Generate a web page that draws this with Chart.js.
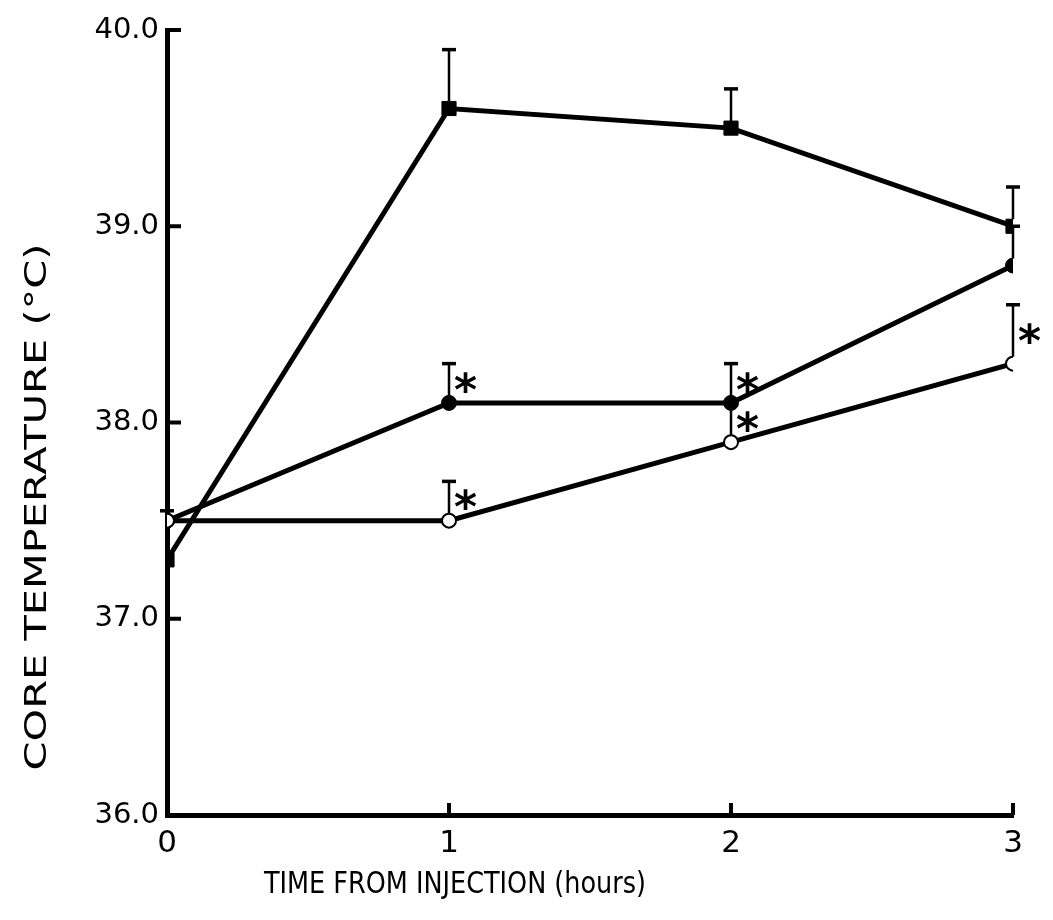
<!DOCTYPE html>
<html>
<head>
<meta charset="utf-8">
<script src="https://cdn.jsdelivr.net/npm/chart.js@4"></script>
<style>
  html, body { margin: 0; padding: 0; background: #ffffff; }
  #wrap { width: 1053px; height: 920px; position: relative; }
</style>
</head>
<body>
<div id="wrap"><canvas id="c" width="1053" height="920"></canvas></div>
<script>
// ---- data ----
const hours = [0, 1, 2, 3];
const xTickValues = [0, 1, 2, 3];
const yTickValues = [36, 37, 38, 39, 40];

const squareTemps = [37.3, 39.6, 39.5, 39.0];
const squareErr   = [0, 0.3, 0.2, 0.2];
const squareStars = [false, false, false, false];

const filledTemps = [37.5, 38.1, 38.1, 38.8];
const filledErr   = [0, 0.2, 0.2, 0.2];
const filledStars = [false, true, true, false];

const openTemps = [37.5, 37.5, 37.9, 38.3];
const openErr   = [0.05, 0.2, 0.2, 0.3];
const openStars = [false, true, true, true];

const xTitle = 'TIME FROM INJECTION (hours)';
const yTitle = 'CORE TEMPERATURE (°C)';

// ---- chart ----
const toPts = (vals) => hours.map((h, i) => ({ x: h, y: vals[i] }));

const seriesInfo = [
  { vals: openTemps,   err: openErr,   stars: openStars,   r: 7 },
  { vals: filledTemps, err: filledErr, stars: filledStars, r: 7 },
  { vals: squareTemps, err: squareErr, stars: squareStars, r: 7 }
];

function fitText(ctx, text, cx, cy, targetW) {
  const w = ctx.measureText(text).width;
  ctx.save();
  ctx.translate(cx, cy);
  ctx.scale(targetW / w, 1);
  ctx.fillText(text, 0, 0);
  ctx.restore();
}

const overlay = {
  id: 'overlay',
  beforeDatasetsDraw(chart) {
    const ctx = chart.ctx, xs = chart.scales.x, ys = chart.scales.y;
    ctx.save();
    ctx.strokeStyle = '#000';
    seriesInfo.forEach(s => {
      hours.forEach((h, i) => {
        if (!s.err[i]) return;
        const px = xs.getPixelForValue(h);
        const py = ys.getPixelForValue(s.vals[i]);
        const pt = ys.getPixelForValue(s.vals[i] + s.err[i]);
        ctx.lineWidth = 2.5;
        ctx.beginPath();
        ctx.moveTo(px, py - s.r);
        ctx.lineTo(px, pt);
        ctx.stroke();
        ctx.lineWidth = 3.5;
        ctx.beginPath();
        ctx.moveTo(px - 7, pt);
        ctx.lineTo(px + 7, pt);
        ctx.stroke();
      });
    });
    ctx.restore();
  },
  afterDraw(chart) {
    const ctx = chart.ctx, xs = chart.scales.x, ys = chart.scales.y;
    const a = chart.chartArea;
    ctx.save();
    ctx.strokeStyle = '#000';
    ctx.lineWidth = 4;
    // inward tick marks
    yTickValues.forEach(v => {
      if (v === 36) return;
      const y = ys.getPixelForValue(v);
      ctx.beginPath(); ctx.moveTo(a.left, y); ctx.lineTo(a.left + 14, y); ctx.stroke();
    });
    xTickValues.forEach(v => {
      if (v === 0) return;
      const x = xs.getPixelForValue(v);
      ctx.beginPath(); ctx.moveTo(x, a.bottom); ctx.lineTo(x, a.bottom - 12); ctx.stroke();
    });
    // significance asterisks
    ctx.fillStyle = '#000';
    ctx.font = 'bold 44px "DejaVu Sans"';
    ctx.textAlign = 'left';
    ctx.textBaseline = 'middle';
    seriesInfo.forEach(s => {
      hours.forEach((h, i) => {
        if (!s.stars[i]) return;
        const px = xs.getPixelForValue(h);
        const ym = ys.getPixelForValue(s.vals[i] + s.err[i] / 2);
        ctx.fillText('*', px + 5, ym + 10);
      });
    });
    // axis titles
    ctx.textAlign = 'center';
    ctx.textBaseline = 'middle';
    ctx.font = '30px "DejaVu Sans"';
    ctx.save();
    ctx.translate(38, 507);
    ctx.rotate(-Math.PI / 2);
    fitText(ctx, yTitle, 0, 0, 527);
    ctx.restore();
    ctx.font = '31px "Liberation Sans Narrow", "DejaVu Sans Condensed", "Liberation Sans"';
    fitText(ctx, xTitle, 455, 885, 382);
    ctx.restore();
  }
};

new Chart(document.getElementById('c'), {
  type: 'line',
  data: {
    datasets: [
      {
        label: 'open',
        data: toPts(openTemps),
        borderColor: '#000', borderWidth: 5,
        pointStyle: 'circle', pointRadius: 7,
        pointBackgroundColor: '#fff', pointBorderColor: '#000', pointBorderWidth: 2,
        tension: 0
      },
      {
        label: 'filled',
        data: toPts(filledTemps),
        borderColor: '#000', borderWidth: 5,
        pointStyle: 'circle', pointRadius: 7.5,
        pointBackgroundColor: '#000', pointBorderColor: '#000', pointBorderWidth: 1,
        tension: 0
      },
      {
        label: 'square',
        data: toPts(squareTemps),
        borderColor: '#000', borderWidth: 5,
        pointStyle: 'rect', pointRadius: 10,
        pointBackgroundColor: '#000', pointBorderColor: '#000', pointBorderWidth: 1,
        tension: 0
      }
    ]
  },
  options: {
    responsive: false,
    animation: false,
    events: [],
    layout: { padding: { top: 30, right: 40, left: 0, bottom: 0 } },
    plugins: { legend: { display: false }, tooltip: { enabled: false } },
    scales: {
      x: {
        type: 'linear', min: 0, max: 3,
        afterBuildTicks: (s) => { s.ticks = xTickValues.map(v => ({ value: v })); },
        afterFit: (s) => { s.height = 920 - 815; },
        grid: { display: false, drawTicks: false, tickLength: 0 },
        border: { display: true, color: '#000', width: 5 },
        ticks: { color: '#000', font: { family: 'DejaVu Sans', size: 31 }, padding: 10,
                 callback: (v) => String(v) }
      },
      y: {
        type: 'linear', min: 36, max: 40,
        afterBuildTicks: (s) => { s.ticks = yTickValues.map(v => ({ value: v })); },
        afterFit: (s) => { s.width = 167; },
        grid: { display: false, drawTicks: false, tickLength: 0 },
        border: { display: true, color: '#000', width: 5 },
        ticks: { color: '#000', font: { family: 'DejaVu Sans', size: 29 }, padding: 8,
                 callback: (v) => Number(v).toFixed(1) }
      }
    }
  },
  plugins: [overlay]
});
</script>
</body>
</html>
